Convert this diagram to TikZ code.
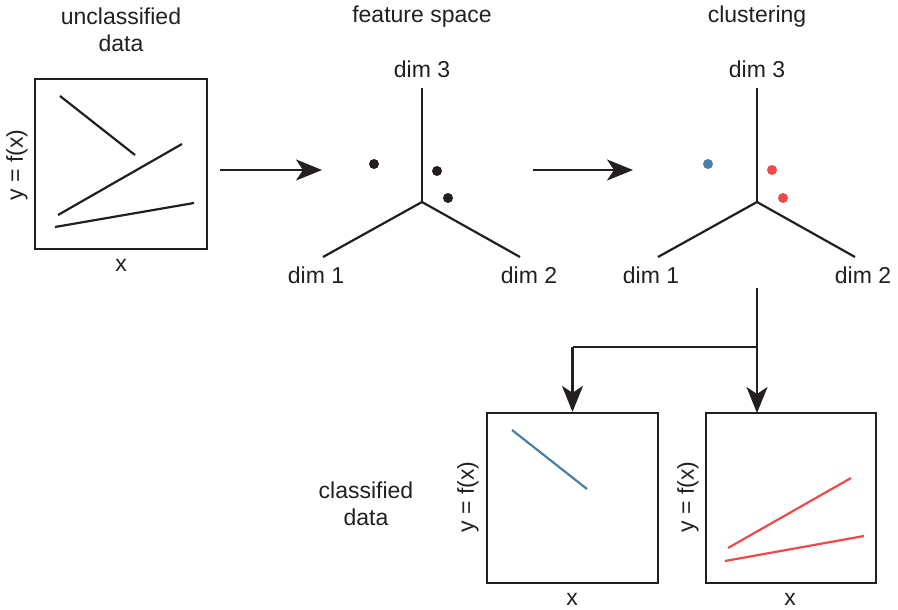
\documentclass[tikz,border=0pt]{standalone}
\usepackage{fontspec}
\setmainfont{Liberation Sans}
\usetikzlibrary{arrows.meta}
\definecolor{ink}{HTML}{231F20}
\definecolor{cblue}{RGB}{74,127,168}
\definecolor{cred}{RGB}{238,74,74}
\begin{document}
\begin{tikzpicture}[x=1pt,y=-1pt,
  lbl/.style={font=\fontsize{23}{27.5}\selectfont, text=ink, inner sep=0pt, align=center},
  plotbox/.style={draw=ink, line width=2.3pt, minimum width=172pt, minimum height=170pt, inner sep=0pt},
  dataline/.style={line width=2.2pt},
  axis/.style={draw=ink, line width=2.2pt},
  flow/.style={draw=ink, line width=2.2pt, -{Stealth[length=26pt,width=21pt,inset=7pt]}},
  split/.style={draw=ink, line width=2.2pt},
  pt/.style={circle, inner sep=0pt, minimum size=10pt},
]
\useasboundingbox (0,0) rectangle (898,610);

% ---------- unclassified data ----------
\node[lbl] (t1) at (121,30) {unclassified\\data};
\node[plotbox] (b1) at (121,164) {};
\node[lbl, rotate=90] (y1) at (17,165) {y = f(x)};
\node[lbl] (x1) at (121,265) {x};
\draw[dataline, ink] (60,96) -- (135,155);
\draw[dataline, ink] (58,215) -- (182,144);
\draw[dataline, ink] (55,227) -- (194,203);

% ---------- arrow 1 ----------
\coordinate (a1s) at (220,170);
\coordinate (a1e) at (322,170);
\draw[flow] (a1s) -- (a1e);

% ---------- feature space ----------
\node[lbl] (t2) at (422,17) {feature space};
\coordinate (c1) at (422,202);
\coordinate (c1u) at (422,88);
\coordinate (c1l) at (323,257);
\coordinate (c1r) at (520,257);
\draw[axis] (c1u) -- (c1);
\draw[axis] (c1l) -- (c1) -- (c1r);
\node[lbl] (d13) at (422,69) {dim 3};
\node[lbl] (d11) at (316,275) {dim 1};
\node[lbl] (d12) at (529,275) {dim 2};
\node[pt, fill=ink] (p1) at (374,164) {};
\node[pt, fill=ink] (p2) at (437,171) {};
\node[pt, fill=ink] (p3) at (448,198) {};

% ---------- arrow 2 ----------
\coordinate (a2s) at (533,170);
\coordinate (a2e) at (633,170);
\draw[flow] (a2s) -- (a2e);

% ---------- clustering ----------
\node[lbl] (t3) at (757,17) {clustering};
\coordinate (c2) at (757,202);
\coordinate (c2u) at (757,88);
\coordinate (c2l) at (658,257);
\coordinate (c2r) at (855,257);
\draw[axis] (c2u) -- (c2);
\draw[axis] (c2l) -- (c2) -- (c2r);
\node[lbl] (d23) at (757,69) {dim 3};
\node[lbl] (d21) at (651,275) {dim 1};
\node[lbl] (d22) at (863,275) {dim 2};
\node[pt, fill=cblue] (q1) at (708,164) {};
\node[pt, fill=cred] (q2) at (772,170) {};
\node[pt, fill=cred] (q3) at (783,198) {};

% ---------- classified data ----------
\node[lbl] (t4) at (366,504) {classified\\data};
\node[plotbox, minimum width=171pt] (b2) at (572.5,498) {};
\node[plotbox, minimum width=170pt] (b3) at (791,498) {};
\node[lbl, rotate=90] (y2) at (468,497) {y = f(x)};
\node[lbl, rotate=90] (y3) at (688,497) {y = f(x)};
\node[lbl] (x2) at (572,599) {x};
\node[lbl] (x3) at (790,599) {x};
\draw[dataline, cblue] (512,430) -- (587,489);
\draw[dataline, cred] (728,548) -- (851,478);
\draw[dataline, cred] (725,561) -- (864,536);

% ---------- split connector ----------
\coordinate (s0) at (757,288);
\coordinate (sj) at (757,347);
\coordinate (sl) at (572.5,347);
\coordinate (sr) at (757,413);
\draw[flow] (s0) -- (sr);
\draw[split] (sj) -- (sl);
\draw[flow] (sl) -- (b2.north);
\end{tikzpicture}
\end{document}
